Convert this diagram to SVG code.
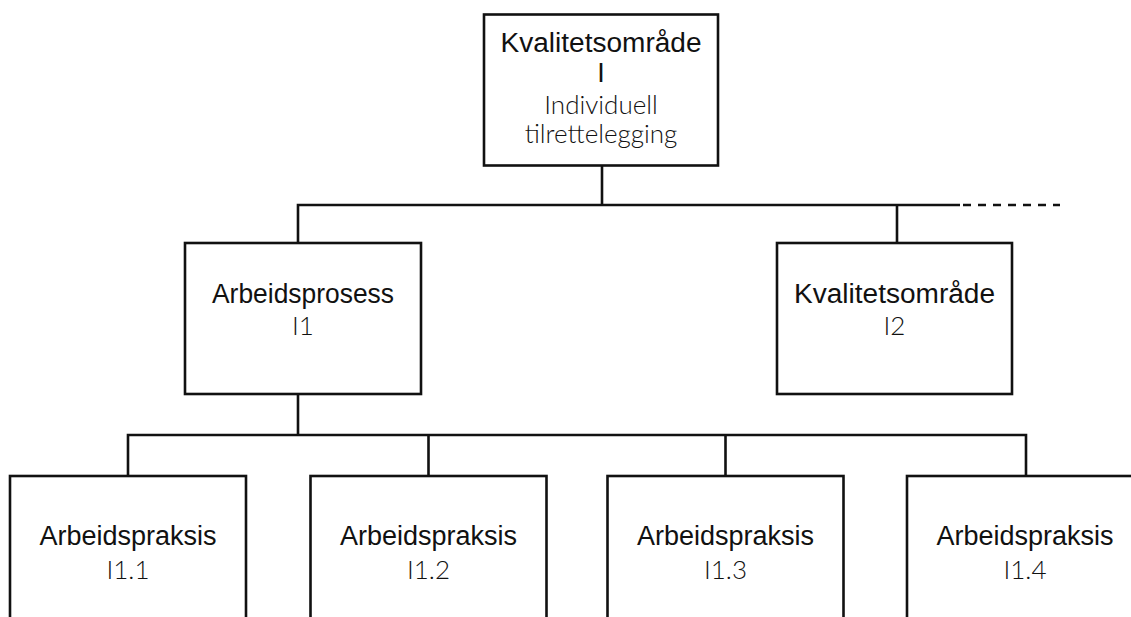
<svg xmlns="http://www.w3.org/2000/svg" width="1131" height="617" viewBox="0 0 1131 617">
<style>
.box{fill:#fff;stroke:#111;stroke-width:2.6}
.ln{fill:none;stroke:#111;stroke-width:2.6}
.dash{fill:none;stroke:#111;stroke-width:2.6;stroke-dasharray:8 7}
.t{font-family:"Liberation Sans",Arial,sans-serif;font-size:27px;fill:#111;text-anchor:middle}
.l{font-family:"Lato","Liberation Sans",sans-serif;font-weight:300;font-size:26px;fill:#111;text-anchor:middle}
</style>
<rect width="1131" height="617" fill="#fff"/>
<g id="connectors">
<path class="ln" d="M602 165V205M298 243V205H960M897 205V243"/>
<path class="dash" d="M963 205H1060"/>
<path class="ln" d="M298 394V435M128 476V435H1026V476M428.5 435V476M725.5 435V476"/>
</g>
<g id="node-I">
<rect class="box" x="484" y="14.5" width="234" height="151"/>
<text class="t" x="601" y="52" textLength="201" lengthAdjust="spacingAndGlyphs">Kvalitetsområde</text>
<text class="t" x="601" y="82">I</text>
<text class="l" x="601" y="114">Individuell</text>
<text class="l" x="601" y="143">tilrettelegging</text>
</g>
<g id="node-I1">
<rect class="box" x="185" y="243" width="236" height="151"/>
<text class="t" x="303" y="303" textLength="182" lengthAdjust="spacingAndGlyphs">Arbeidsprosess</text>
<text class="l" x="303" y="335">I1</text>
</g>
<g id="node-I2">
<rect class="box" x="777" y="243" width="235" height="151"/>
<text class="t" x="894.5" y="303" textLength="201" lengthAdjust="spacingAndGlyphs">Kvalitetsområde</text>
<text class="l" x="894.5" y="335">I2</text>
</g>
<g id="node-I1-1">
<rect class="box" x="10" y="476" width="236" height="160"/>
<text class="t" x="128" y="545">Arbeidspraksis</text>
<text class="l" x="128" y="579">I1.1</text>
</g>
<g id="node-I1-2">
<rect class="box" x="310.5" y="476" width="236" height="160"/>
<text class="t" x="428.5" y="545">Arbeidspraksis</text>
<text class="l" x="428.5" y="579">I1.2</text>
</g>
<g id="node-I1-3">
<rect class="box" x="607.5" y="476" width="236" height="160"/>
<text class="t" x="725.5" y="545">Arbeidspraksis</text>
<text class="l" x="725.5" y="579">I1.3</text>
</g>
<g id="node-I1-4">
<rect class="box" x="907" y="476" width="236" height="160"/>
<text class="t" x="1025" y="545">Arbeidspraksis</text>
<text class="l" x="1025" y="579">I1.4</text>
</g>
</svg>
